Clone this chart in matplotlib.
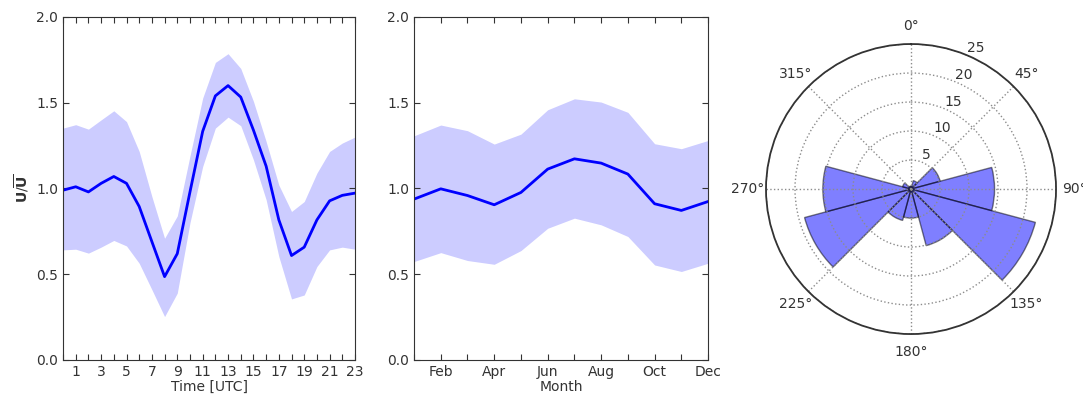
import matplotlib
matplotlib.use("Agg")
import matplotlib.pyplot as plt
import numpy as np

# diurnal cycle (hour UTC)
hours = np.arange(24)
hour_mean = [0.99, 1.01, 0.98, 1.03, 1.07, 1.03, 0.895, 0.69, 0.486, 0.62, 0.98, 1.333,
             1.54, 1.60, 1.533, 1.34, 1.13, 0.817, 0.609, 0.658, 0.817, 0.928, 0.96, 0.973]
hour_upper = [1.352, 1.372, 1.346, 1.40, 1.453, 1.39, 1.216, 0.953, 0.71, 0.84, 1.19, 1.527,
              1.735, 1.786, 1.70, 1.508, 1.274, 1.02, 0.866, 0.924, 1.09, 1.216, 1.265, 1.30]
hour_lower = [0.642, 0.646, 0.623, 0.658, 0.697, 0.665, 0.564, 0.41, 0.253, 0.39, 0.80, 1.128,
              1.352, 1.416, 1.366, 1.167, 0.934, 0.603, 0.356, 0.379, 0.545, 0.642, 0.658, 0.646]

# annual cycle
months = np.arange(1, 13)
month_names = ['', 'Feb', '', 'Apr', '', 'Jun', '', 'Aug', '', 'Oct', '', 'Dec']
month_mean = [0.938, 0.998, 0.959, 0.905, 0.977, 1.113, 1.173, 1.148, 1.084, 0.911, 0.872, 0.924]
month_upper = [1.307, 1.37, 1.337, 1.259, 1.317, 1.459, 1.523, 1.504, 1.444, 1.261, 1.232, 1.28]
month_lower = [0.574, 0.626, 0.58, 0.558, 0.638, 0.768, 0.827, 0.788, 0.72, 0.554, 0.516, 0.564]

# direction rose (30 degree sectors)
dir_centers = [0, 30, 60, 90, 120, 150, 180, 210, 240, 270, 300, 330]
dir_freq = [0.5, 1.5, 5.2, 14.4, 22.2, 10.1, 5.0, 5.6, 19.0, 15.2, 1.5, 0.5]

plt.rcParams['font.size'] = 10
plt.rcParams['xtick.direction'] = 'in'
plt.rcParams['ytick.direction'] = 'in'
plt.rcParams['xtick.top'] = True
plt.rcParams['ytick.right'] = True
plt.rcParams['xtick.major.size'] = 4
plt.rcParams['ytick.major.size'] = 4
plt.rcParams['text.color'] = '0.2'
plt.rcParams['xtick.color'] = '0.2'
plt.rcParams['ytick.color'] = '0.2'
plt.rcParams['axes.edgecolor'] = '0.2'
plt.rcParams['axes.labelcolor'] = '0.2'

fig = plt.figure(figsize=(10.83, 3.94), dpi=100)

ax1 = fig.add_axes([0.0582, 0.0863, 0.2696, 0.8706])
ax1.fill_between(hours, hour_lower, hour_upper, color='b', alpha=0.2, linewidth=0)
ax1.plot(hours, hour_mean, color='b', lw=2)
ax1.set_xlim(0, 23)
ax1.set_ylim(0, 2)
ax1.set_xticks(hours)
ax1.set_xticklabels([str(h) if h % 2 else '' for h in hours])
ax1.set_yticks([0, 0.5, 1.0, 1.5, 2.0])
ax1.set_xlabel('Time [UTC]', labelpad=1)
ax1.set_ylabel(r'$\mathbf{U}/\overline{\mathbf{U}}$')

ax2 = fig.add_axes([0.3823, 0.0863, 0.2715, 0.8706])
ax2.fill_between(months, month_lower, month_upper, color='b', alpha=0.2, linewidth=0)
ax2.plot(months, month_mean, color='b', lw=2)
ax2.set_xlim(1, 12)
ax2.set_ylim(0, 2)
ax2.set_xticks(months)
ax2.set_xticklabels(month_names)
ax2.set_yticks([0, 0.5, 1.0, 1.5, 2.0])
ax2.set_xlabel('Month', labelpad=1)

ax3 = fig.add_axes([0.7073, 0.1497, 0.2678, 0.741], projection='polar')
ax3.set_theta_zero_location('N')
ax3.set_theta_direction(-1)
ax3.bar(np.radians(dir_centers), dir_freq, width=np.radians(30), color='b', alpha=0.5,
        edgecolor='k', linewidth=1)
ax3.set_ylim(0, 25)
ax3.set_yticks([5, 10, 15, 20, 25])
ax3.set_rlabel_position(22.5)
ax3.set_xticks(np.radians(np.arange(0, 360, 45)))
ax3.set_xticklabels(['0°', '45°', '90°', '135°', '180°', '225°', '270°', '315°'])
ax3.grid(True, linestyle=':', color='0.55', linewidth=1)
ax3.spines['polar'].set_linewidth(1.3)
ax3.tick_params(axis='x', pad=6)

fig.savefig('out.png', dpi=100, facecolor='white')
